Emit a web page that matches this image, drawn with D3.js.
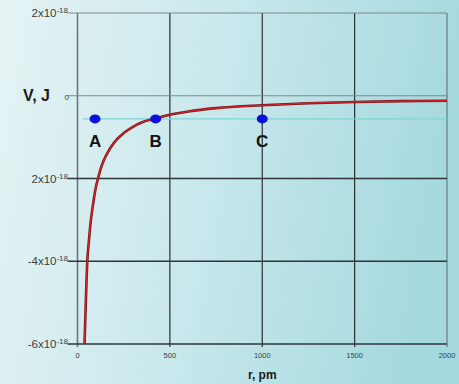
<!DOCTYPE html>
<html>
<head>
<meta charset="utf-8">
<script src="https://cdn.jsdelivr.net/npm/d3@7"></script>
<style>
  html, body { margin: 0; padding: 0; }
  svg { display: block; }
</style>
</head>
<body>
<svg id="chart" width="459" height="384"></svg>
<script>
// ---- data (units: r in pm, V in units of 1e-18 J) ----
const rValues = [38, 45, 53, 60, 70, 85, 100, 111, 130, 160, 200, 250, 300, 350, 423, 500, 600, 750, 1000, 1250, 1500, 1750, 2000];
const vValues = [-6.0, -5.0, -4.0, -3.6, -3.1, -2.6, -2.2, -2.0, -1.7, -1.4, -1.12, -0.9, -0.75, -0.64, -0.55, -0.46, -0.38, -0.30, -0.23, -0.18, -0.15, -0.13, -0.12];
const levelV = -0.56;
const pointNames = ["A", "B", "C"];
const pointR = [95, 423, 1000];
const xTicks = [0, 500, 1000, 1500, 2000];
const yTicks = [2, 0, -2, -4, -6];
const yTickLabels = ["2x10", "0", "2x10", "-4x10", "-6x10"];
const yTickExp = ["-18", "", "-18", "-18", "-18"];

const svg = d3.select("#chart");
const W = 459, H = 384;

// background gradient
const defs = svg.append("defs");
const grad = defs.append("linearGradient").attr("id", "bg").attr("x1", "0").attr("x2", "1").attr("y1", "0").attr("y2", "0.15");
grad.append("stop").attr("offset", "0").attr("stop-color", "#e6f3f4");
grad.append("stop").attr("offset", "0.5").attr("stop-color", "#c8e8ec");
grad.append("stop").attr("offset", "1").attr("stop-color", "#a6d9df");
svg.append("rect").attr("width", W).attr("height", H).attr("fill", "url(#bg)");

const x = d3.scaleLinear().domain([0, 2000]).range([77.5, 447]);
const y = d3.scaleLinear().domain([-6, 2]).range([344, 13]);

// grid lines
const g = svg.append("g");
xTicks.forEach(t => {
  g.append("line")
    .attr("x1", x(t)).attr("x2", x(t)).attr("y1", y(2)).attr("y2", y(-6) + 3)
    .attr("stroke", (t === 0 || t === 2000) ? "#6b7878" : "#2a2f30")
    .attr("stroke-width", (t === 0) ? 1.6 : 1.2);
});
yTicks.forEach(t => {
  g.append("line")
    .attr("x1", x(0) - 10).attr("x2", x(2000)).attr("y1", y(t)).attr("y2", y(t))
    .attr("stroke", (t >= 0) ? "#7d8a8b" : "#2f3536")
    .attr("stroke-width", (t >= 0) ? 1.2 : 1.5);
});

// level line
svg.append("line")
  .attr("x1", x(30)).attr("x2", x(2000))
  .attr("y1", y(levelV)).attr("y2", y(levelV))
  .attr("stroke", "#7fd3d8").attr("stroke-width", 1.3);

// curve
const pts = rValues.map((r, i) => [r, vValues[i]]);
const line = d3.line().x(d => x(d[0])).y(d => y(d[1])).curve(d3.curveMonotoneX);
svg.append("path").datum(pts).attr("d", line)
  .attr("fill", "none").attr("stroke", "#7a1518").attr("stroke-width", 2.6);
svg.append("path").datum(pts).attr("d", line)
  .attr("fill", "none").attr("stroke", "#d8232a").attr("stroke-width", 1.2);

// points
pointR.forEach((r, i) => {
  svg.append("ellipse").attr("cx", x(r)).attr("cy", y(levelV))
    .attr("rx", 5.5).attr("ry", 4.5).attr("fill", "#0a10e0");
  svg.append("text").attr("x", x(r)).attr("y", y(levelV) + 28)
    .attr("text-anchor", "middle")
    .attr("font-family", "Liberation Sans, Arial, sans-serif")
    .attr("font-weight", "bold").attr("font-size", 17).attr("fill", "#111")
    .text(pointNames[i]);
});

// y tick labels
yTicks.forEach((t, i) => {
  const txt = svg.append("text")
    .attr("x", t === 0 ? 69 : 68).attr("y", y(t) + 4)
    .attr("text-anchor", "end")
    .attr("font-family", "Liberation Sans, Arial, sans-serif")
    .attr("font-size", t === 0 ? 8 : 11.5).attr("fill", "#3a3f40");
  txt.append("tspan").text(yTickLabels[i]);
  if (yTickExp[i]) {
    txt.append("tspan").attr("dy", -4).attr("font-size", 8).text(yTickExp[i]);
  }
});

// x tick labels
xTicks.forEach(t => {
  svg.append("text").attr("x", x(t)).attr("y", 358)
    .attr("text-anchor", "middle")
    .attr("font-family", "Liberation Sans, Arial, sans-serif")
    .attr("font-size", 7.5).attr("fill", "#3a3f40")
    .text(t);
});

// axis titles
svg.append("text").attr("x", 23).attr("y", 101)
  .attr("font-family", "Liberation Sans, Arial, sans-serif")
  .attr("font-weight", "bold").attr("font-size", 16).attr("fill", "#1a1a1a")
  .text("V, J");
svg.append("text").attr("x", x(1000)).attr("y", 379)
  .attr("text-anchor", "middle")
  .attr("font-family", "Liberation Sans, Arial, sans-serif")
  .attr("font-weight", "bold").attr("font-size", 12).attr("fill", "#1a1a1a")
  .text("r, pm");
</script>
</body>
</html>
